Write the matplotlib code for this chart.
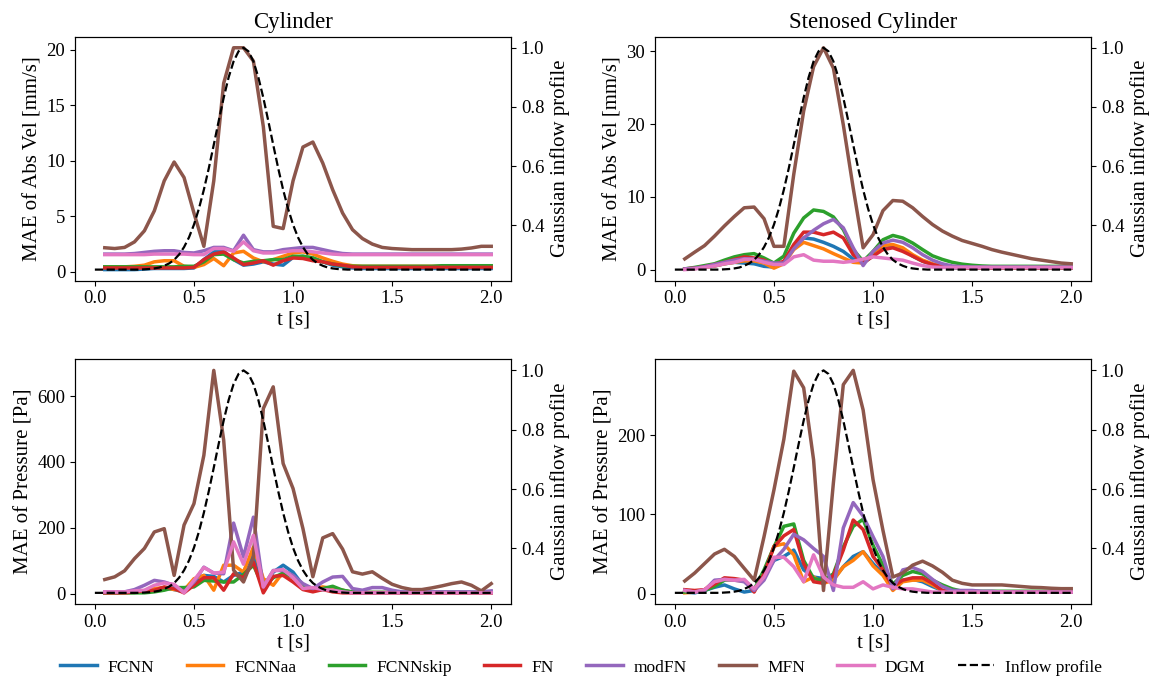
import numpy as np
import matplotlib
matplotlib.use("Agg")
import matplotlib.pyplot as plt

plt.rcParams['font.family'] = ['Liberation Serif', 'DejaVu Serif']
plt.rcParams['mathtext.fontset'] = 'stix'

# time samples of the error curves
t = np.linspace(0.05, 2.0, 40)

# Gaussian inflow profile (0.025 s steps)
t_in = np.linspace(0.0, 2.0, 81)
inflow_left = [0.25, 0.25, 0.25, 0.25, 0.25, 0.25, 0.25, 0.25, 0.25, 0.25,
               0.251, 0.252, 0.254, 0.257, 0.263, 0.271, 0.283, 0.301, 0.326, 0.359,
               0.402, 0.456, 0.520, 0.593, 0.672, 0.753, 0.831, 0.900, 0.954, 0.988]
inflow = inflow_left + [1.0] + inflow_left[::-1] + [0.25] * 20

models = ["FCNN", "FCNNaa", "FCNNskip", "FN", "modFN", "MFN", "DGM"]
colors = ["C0", "C1", "C2", "C3", "C4", "C5", "C6"]

# Cylinder, MAE of abs velocity [mm/s]
cyl_vel = {
    "FCNN": [0.2, 0.2, 0.2, 0.2, 0.25, 0.3, 0.3, 0.3, 0.3, 0.35,
             1.1, 1.8, 1.85, 1.1, 0.6, 0.7, 0.9, 0.7, 0.6, 1.3,
             1.4, 1.25, 0.9, 0.6, 0.45, 0.35, 0.3, 0.3, 0.3, 0.3,
             0.3, 0.3, 0.3, 0.3, 0.3, 0.3, 0.3, 0.3, 0.3, 0.3],
    "FCNNaa": [0.45, 0.45, 0.45, 0.5, 0.6, 0.9, 1.0, 1.0, 0.5, 0.4,
               0.65, 1.2, 0.55, 1.7, 1.85, 1.25, 0.9, 1.1, 1.4, 1.7,
               1.8, 1.6, 1.25, 0.95, 0.7, 0.55, 0.5, 0.5, 0.5, 0.5,
               0.5, 0.5, 0.5, 0.5, 0.5, 0.5, 0.5, 0.5, 0.5, 0.5],
    "FCNNskip": [0.45, 0.45, 0.45, 0.45, 0.45, 0.45, 0.45, 0.45, 0.5, 0.5,
                 0.9, 1.55, 1.6, 1.1, 0.8, 0.95, 1.0, 1.1, 1.1, 1.4,
                 1.4, 1.25, 0.9, 0.7, 0.55, 0.5, 0.5, 0.5, 0.5, 0.5,
                 0.5, 0.5, 0.5, 0.5, 0.55, 0.55, 0.55, 0.55, 0.55, 0.55],
    "FN": [0.35, 0.35, 0.35, 0.35, 0.35, 0.35, 0.35, 0.35, 0.35, 0.4,
           1.1, 1.6, 1.8, 1.25, 0.65, 0.8, 1.0, 0.6, 1.0, 1.25,
           1.2, 1.0, 0.9, 0.7, 0.6, 0.45, 0.4, 0.4, 0.4, 0.4,
           0.4, 0.4, 0.4, 0.4, 0.4, 0.4, 0.4, 0.4, 0.4, 0.4],
    "modFN": [1.6, 1.6, 1.6, 1.65, 1.75, 1.85, 1.9, 1.9, 1.75, 1.7,
              1.9, 2.2, 2.2, 1.9, 3.3, 2.0, 1.8, 1.8, 2.0, 2.1,
              2.2, 2.2, 2.0, 1.8, 1.65, 1.6, 1.6, 1.6, 1.6, 1.6,
              1.6, 1.6, 1.6, 1.6, 1.6, 1.6, 1.6, 1.6, 1.6, 1.6],
    "MFN": [2.17, 2.1, 2.2, 2.7, 3.7, 5.5, 8.2, 9.9, 8.5, 5.3,
            2.3, 8.2, 17.0, 20.2, 20.2, 19.0, 13.1, 4.1, 3.9, 8.2,
            11.25, 11.7, 9.8, 7.4, 5.3, 3.8, 3.0, 2.5, 2.2, 2.1,
            2.05, 2.0, 2.0, 2.0, 2.0, 2.0, 2.05, 2.15, 2.3, 2.3],
    "DGM": [1.55, 1.55, 1.55, 1.55, 1.55, 1.6, 1.6, 1.6, 1.6, 1.55,
            1.55, 2.1, 2.1, 1.85, 2.7, 1.9, 1.7, 1.7, 1.8, 1.9,
            1.9, 1.8, 1.7, 1.6, 1.55, 1.55, 1.55, 1.55, 1.55, 1.55,
            1.55, 1.55, 1.55, 1.55, 1.55, 1.55, 1.55, 1.55, 1.55, 1.55],
}

# Stenosed cylinder, MAE of abs velocity [mm/s]
sten_vel = {
    "FCNN": [0.1, 0.15, 0.3, 0.5, 0.8, 1.0, 0.9, 0.8, 0.45, 0.35,
             0.9, 3.0, 4.35, 4.2, 3.75, 3.2, 2.5, 1.45, 0.9, 1.9,
             3.0, 3.2, 2.75, 1.85, 1.15, 0.7, 0.35, 0.25, 0.25, 0.25,
             0.25, 0.25, 0.25, 0.25, 0.25, 0.25, 0.25, 0.25, 0.25, 0.25],
    "FCNNaa": [0.1, 0.15, 0.3, 0.5, 0.8, 1.0, 1.2, 1.2, 0.9, 0.2,
               0.8, 2.75, 3.75, 3.3, 2.85, 2.2, 1.6, 1.0, 0.9, 2.05,
               3.3, 3.45, 3.0, 2.05, 1.3, 0.8, 0.5, 0.35, 0.3, 0.3,
               0.3, 0.3, 0.3, 0.3, 0.3, 0.3, 0.3, 0.3, 0.3, 0.3],
    "FCNNskip": [0.1, 0.3, 0.55, 0.8, 1.3, 1.75, 2.05, 2.2, 1.6, 0.9,
                 1.85, 5.0, 7.1, 8.2, 8.0, 7.25, 5.5, 2.75, 1.15, 2.5,
                 4.1, 4.7, 4.35, 3.65, 2.75, 1.9, 1.4, 1.0, 0.75, 0.6,
                 0.5, 0.45, 0.45, 0.45, 0.45, 0.45, 0.45, 0.45, 0.45, 0.45],
    "FN": [0.1, 0.2, 0.4, 0.7, 1.0, 1.4, 1.75, 1.6, 1.3, 0.7,
           1.15, 3.45, 5.15, 5.15, 4.8, 5.15, 4.35, 2.05, 0.9, 1.85,
           2.75, 3.0, 2.5, 1.85, 1.15, 0.7, 0.4, 0.3, 0.25, 0.25,
           0.25, 0.25, 0.25, 0.25, 0.25, 0.25, 0.25, 0.25, 0.25, 0.25],
    "modFN": [0.1, 0.2, 0.4, 0.7, 1.0, 1.3, 1.5, 1.45, 1.15, 0.9,
              0.9, 2.85, 4.35, 5.4, 6.3, 6.9, 5.75, 3.0, 0.55, 2.5,
              3.65, 4.05, 3.75, 3.0, 2.05, 1.3, 0.8, 0.5, 0.4, 0.35,
              0.35, 0.35, 0.35, 0.35, 0.35, 0.35, 0.35, 0.35, 0.35, 0.35],
    "MFN": [1.47, 2.4, 3.3, 4.6, 6.0, 7.3, 8.5, 8.6, 7.0, 3.2,
            3.2, 13.1, 21.8, 27.9, 30.5, 27.7, 19.9, 11.2, 3.0, 4.8,
            8.1, 9.5, 9.4, 8.5, 7.3, 6.2, 5.3, 4.6, 4.0, 3.6,
            3.2, 2.75, 2.4, 2.1, 1.8, 1.5, 1.3, 1.1, 0.9, 0.8],
    "DGM": [0.0, 0.1, 0.3, 0.5, 0.8, 1.0, 1.4, 1.4, 1.0, 0.7,
            0.7, 1.75, 2.05, 1.3, 1.15, 1.15, 1.0, 1.15, 1.45, 1.75,
            1.6, 1.45, 1.3, 0.9, 0.55, 0.35, 0.3, 0.3, 0.3, 0.3,
            0.3, 0.3, 0.3, 0.3, 0.3, 0.3, 0.3, 0.3, 0.3, 0.3],
}

# Cylinder, MAE of pressure [Pa]
cyl_p = {
    "FCNN": [3, 3, 3, 3, 5, 10, 18, 12, 5, 38,
             55, 52, 35, 55, 65, 126, 20, 65, 86, 65,
             25, 10, 12, 15, 10, 3, 3, 3, 3, 3,
             3, 3, 3, 3, 3, 3, 3, 3, 3, 3],
    "FCNNaa": [3, 3, 3, 3, 8, 15, 18, 12, 10, 45,
               55, 10, 86, 86, 65, 141, 45, 25, 65, 48,
               25, 15, 20, 15, 10, 3, 3, 3, 3, 3,
               3, 3, 3, 3, 3, 3, 3, 3, 3, 3],
    "FCNNskip": [2, 2, 2, 2, 2, 5, 10, 18, 18, 20,
                 40, 38, 35, 35, 58, 86, 20, 48, 62, 50,
                 25, 10, 15, 22, 10, 5, 3, 3, 3, 3,
                 3, 3, 3, 3, 3, 3, 3, 3, 3, 3],
    "FN": [2, 2, 2, 5, 8, 10, 20, 15, 2, 25,
           48, 48, 10, 60, 48, 96, 2, 52, 55, 35,
           12, 5, 12, 5, 2, 2, 2, 2, 2, 2,
           2, 2, 2, 2, 2, 2, 2, 2, 2, 2],
    "modFN": [5, 5, 5, 12, 25, 40, 35, 25, 5, 35,
              80, 62, 60, 214, 111, 232, 20, 70, 70, 55,
              30, 15, 35, 50, 52, 15, 10, 18, 18, 10,
              5, 5, 5, 5, 5, 5, 5, 5, 5, 8],
    "MFN": [42.5, 50.6, 69, 106, 137, 187, 197, 55, 208, 273,
            420, 678, 466, 71, 35, 110, 562, 628, 395, 319,
            197, 51, 169, 182, 135, 66, 59, 66, 46, 28,
            18, 12, 12, 17, 23, 30, 35, 25, 8, 30],
    "DGM": [5, 5, 5, 8, 10, 25, 32, 28, 2, 40,
            79, 62, 65, 157, 89, 177, 20, 69, 73, 48,
            15, 18, 12, 10, 5, 2, 2, 2, 2, 2,
            2, 2, 2, 2, 2, 2, 2, 2, 2, 2],
}

# Stenosed cylinder, MAE of pressure [Pa]
sten_p = {
    "FCNN": [2, 1, 4, 8, 11, 6, 2, 4, 23, 42,
             47, 55, 30, 21, 19, 18, 34, 47, 53, 38,
             25, 8, 17, 18, 15, 9, 4, 2, 2, 2,
             2, 2, 2, 2, 2, 2, 2, 2, 2, 2],
    "FCNNaa": [1, 2, 5, 15, 18, 17, 16, 4, 25, 60,
               63, 49, 15, 21, 13, 17, 34, 42, 53, 35,
               23, 4, 15, 17, 17, 11, 4, 2, 2, 2,
               2, 2, 2, 2, 2, 2, 2, 2, 2, 2],
    "FCNNskip": [2, 3, 4, 9, 17, 18, 16, 5, 30, 59,
                 85, 88, 42, 19, 17, 25, 59, 85, 94, 61,
                 36, 12, 23, 28, 25, 17, 11, 6, 3, 3,
                 3, 3, 3, 3, 3, 3, 3, 3, 3, 3],
    "FN": [5, 4, 5, 12, 20, 19, 17, 2, 25, 59,
           73, 81, 38, 15, 13, 23, 55, 93, 81, 47,
           30, 9, 17, 20, 20, 13, 4, 2, 2, 2,
           2, 2, 2, 2, 2, 2, 2, 2, 2, 2],
    "modFN": [4, 2, 4, 17, 18, 17, 15, 4, 17, 42,
              56, 75, 68, 57, 47, 4, 83, 115, 98, 72,
              47, 6, 30, 33, 28, 18, 9, 4, 4, 4,
              3, 3, 2, 2, 2, 2, 2, 2, 2, 2],
    "MFN": [16, 26, 38, 50, 56, 47, 32, 17, 72, 131,
            195, 281, 260, 169, 4, 140, 264, 282, 232, 144,
            80, 21, 26, 36, 41, 35, 27, 17, 13, 11,
            11, 11, 11, 10, 9, 8, 7.6, 6.8, 6.3, 6.3],
    "DGM": [4, 2, 5, 15, 18, 17, 18, 6, 21, 46,
            46, 34, 15, 49, 21, 11, 8, 8, 15, 6,
            11, 8, 6, 6, 4, 2, 2, 2, 2, 2,
            2, 2, 2, 2, 2, 2, 2, 2, 2, 2],
}

panels = [
    (cyl_vel, "MAE of Abs Vel [mm/s]", "Cylinder", [0, 5, 10, 15, 20]),
    (sten_vel, "MAE of Abs Vel [mm/s]", "Stenosed Cylinder", [0, 10, 20, 30]),
    (cyl_p, "MAE of Pressure [Pa]", None, [0, 200, 400, 600]),
    (sten_p, "MAE of Pressure [Pa]", None, [0, 100, 200]),
]
# axes rectangles in figure fractions
rects = [
    [0.0652, 0.5866, 0.3788, 0.3594],
    [0.5691, 0.5866, 0.3788, 0.3594],
    [0.0652, 0.1105, 0.3788, 0.3604],
    [0.5691, 0.1105, 0.3788, 0.3604],
]

tick_fs = 13.5
label_fs = 15
fig = plt.figure(figsize=(11.51, 6.79), dpi=100)

for (data, ylabel, title, yticks), rect in zip(panels, rects):
    ax = fig.add_axes(rect)
    for name, c in zip(models, colors):
        ax.plot(t, data[name], color=c, lw=2.5, label=name)
    ax.set_xlabel("t [s]", fontsize=label_fs, labelpad=2)
    ax.set_ylabel(ylabel, fontsize=label_fs, labelpad=3)
    ax.set_yticks(yticks)
    ax.set_xticks([0.0, 0.5, 1.0, 1.5, 2.0])
    ax.tick_params(labelsize=tick_fs)
    if title:
        ax.set_title(title, fontsize=16.5, pad=6)

    ax2 = ax.twinx()
    ax2.plot(t_in, inflow, "--", color="black", lw=1.6, label="Inflow profile")
    ax2.set_ylabel("Gaussian inflow profile", fontsize=label_fs)
    ax2.set_yticks([0.4, 0.6, 0.8, 1.0])
    ax2.tick_params(labelsize=tick_fs)

h1, l1 = ax.get_legend_handles_labels()
h2, l2 = ax2.get_legend_handles_labels()
fig.legend(h1 + h2, l1 + l2, loc="center", ncol=8, frameon=False,
           fontsize=12.5, bbox_to_anchor=(0.505, 0.017), columnspacing=1.85,
           handlelength=2.1, handletextpad=0.65)

fig.savefig("out.png", dpi=100)
